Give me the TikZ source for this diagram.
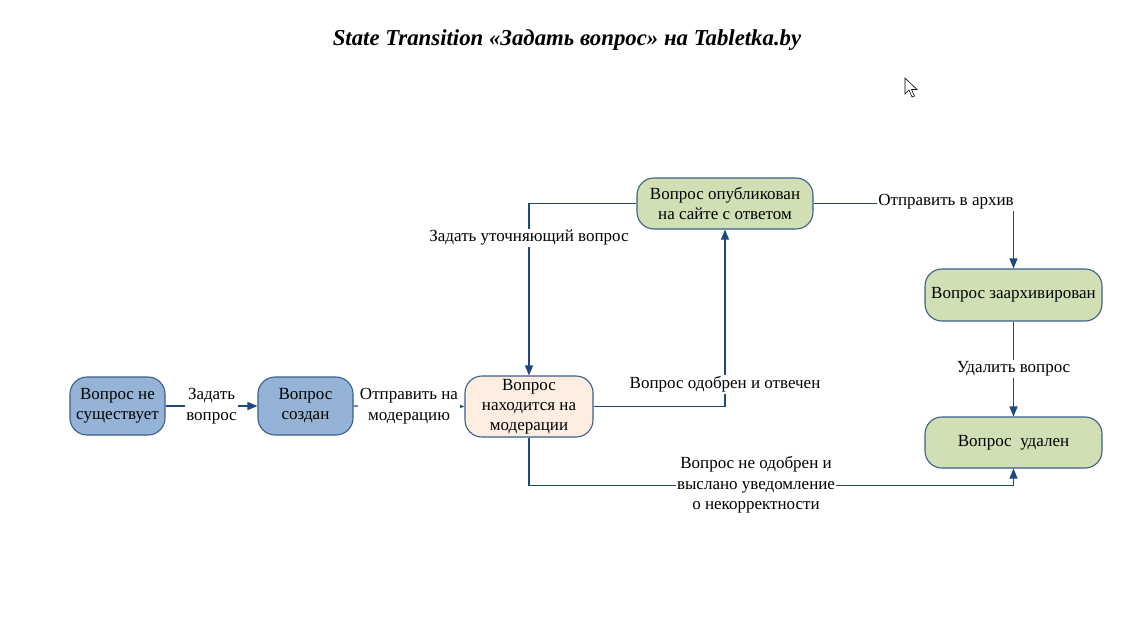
\documentclass[tikz,border=0pt]{standalone}
\usepackage{fontspec}
\setmainfont{Liberation Serif}
\usetikzlibrary{arrows.meta,calc}
\definecolor{bluefill}{HTML}{95B3D7}
\definecolor{greenfill}{HTML}{D1DFB5}
\definecolor{peachfill}{HTML}{FDEEE1}
\definecolor{bordercol}{HTML}{3A5F8C}
\definecolor{linecol}{HTML}{1F497D}
\tikzset{
  statebox/.style={draw=bordercol, line width=1.1pt, rounded corners=17pt, align=center,
    font=\fontsize{17}{20}\selectfont, inner sep=1pt},
  conn/.style={draw=linecol, line width=1.1pt, -{Triangle[length=10pt,width=8pt]}},
  lbl/.style={fill=white, align=center, inner sep=1.5pt, font=\fontsize{17}{20.5}\selectfont},
}
\begin{document}
\begin{tikzpicture}[x=1pt,y=-1pt]
\useasboundingbox (0,0) rectangle (1134,624);
\fill[white] (0,0) rectangle (1134,624);
\node (title) at (567,40) {\fontsize{22.8}{26}\selectfont\bfseries\itshape State Transition «Задать вопрос» на Tabletka.by};

\node[statebox, fill=bluefill, minimum width=95pt, minimum height=58pt] (n1) at (117.5,406) {Вопрос не\\существует};
\node[statebox, fill=bluefill, minimum width=95pt, minimum height=58pt] (n2) at (305.5,406) {Вопрос\\создан};
\node[statebox, fill=peachfill, minimum width=128pt, minimum height=61pt] (n3) at (529,406.5) {Вопрос\\находится на\\модерации};
\node[statebox, fill=greenfill, minimum width=176pt, minimum height=51pt] (n4) at (725,203.5) {Вопрос опубликован\\на сайте с ответом};
\node[statebox, fill=greenfill, minimum width=177pt, minimum height=52pt] (n5) at (1013.5,295) {Вопрос заархивирован};
\node[statebox, fill=greenfill, minimum width=177pt, minimum height=51pt] (n6) at (1013.5,442.5) {Вопрос\ \ удален};

\draw[conn] (n1.east) -- (n2.west) node[lbl, midway] {Задать\\вопрос};
\draw[conn, -{Triangle[length=7pt,width=5pt]}] (n2.east) -- (n3.west) node[lbl, pos=0.5] {Отправить на\\модерацию};
\draw[conn] (n3.east) -- (n3.east -| n4.south) -- (n4.south)
  node[lbl, pos=0.125] {Вопрос одобрен и отвечен};
\draw[conn] (n4.west) -- (n4.west -| n3.north) -- (n3.north)
  node[lbl, pos=0.2] {Задать уточняющий вопрос};
\draw[conn] (n4.east) -- (n4.east -| n5.north) -- (n5.north);
\node[lbl] (l5) at (946,202) {Отправить в архив};
\draw[conn] (n5.south) -- (n6.north) node[lbl, midway] {Удалить вопрос};
\coordinate (c1) at ($(n3.south)+(0,48)$);
\draw[conn] (n3.south) -- (c1) -- (c1 -| n6.south) -- (n6.south);
\node[lbl] (l6) at (756,485) {Вопрос не одобрен и\\выслано уведомление\\о некорректности};

% mouse cursor
\draw[black, line width=0.6pt, fill=white, line join=miter]
  (905,78) -- (905,94) -- (909,90) -- (912,97) -- (914.5,96) -- (911.5,89.5) -- (917,89.5) -- cycle;
\end{tikzpicture}
\end{document}
